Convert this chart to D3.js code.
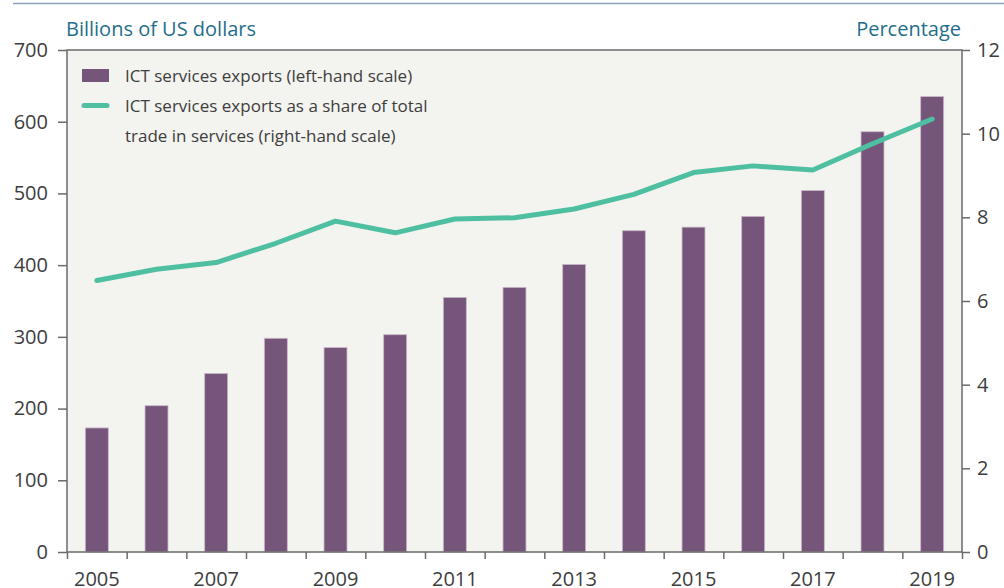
<!DOCTYPE html>
<html>
<head>
<meta charset="utf-8">
<script src="https://cdn.jsdelivr.net/npm/d3@7"></script>
<style>
  body { margin: 0; background: #fff; }
  svg text { font-family: "Open Sans", sans-serif; fill: #3d3d3d; }
  .axis path, .axis line { stroke: #6b6b6b; }
</style>
</head>
<body>
<script>
var years = [2005, 2006, 2007, 2008, 2009, 2010, 2011, 2012, 2013, 2014, 2015, 2016, 2017, 2018, 2019];
var ictExports = [173, 204, 249, 298, 285, 303, 355, 369, 401, 448, 453, 468, 504, 586, 635];
var ictShare = [6.49, 6.76, 6.92, 7.38, 7.91, 7.63, 7.96, 7.99, 8.20, 8.55, 9.07, 9.23, 9.13, 9.76, 10.35];
var leftTicks = [0, 100, 200, 300, 400, 500, 600, 700];
var rightTicks = [0, 2, 4, 6, 8, 10, 12];
var yearLabels = [2005, 2007, 2009, 2011, 2013, 2015, 2017, 2019];
var legendLabels = ["ICT services exports (left-hand scale)",
                    ["ICT services exports as a share of total", "trade in services (right-hand scale)"]];

var W = 1004, H = 588;
var plotL = 67, plotR = 962, plotT = 50, plotB = 552;
var barColor = "#76557b", lineColor = "#4fbfa2";

var svg = d3.select("body").append("svg")
        .attr("width", W)
        .attr("height", H);

// thin rule across the top
svg.append("line")
        .attr("x1", 13).attr("x2", W)
        .attr("y1", 3.5).attr("y2", 3.5)
        .attr("stroke", "#8c9fbb")
        .attr("stroke-width", 1.5);

var x = d3.scaleBand()
        .domain(years)
        .range([plotL, plotR]);
var xEdge = d3.scaleLinear()
        .domain([0, years.length])
        .range([plotL, plotR]);
var y = d3.scaleLinear()
        .domain([0, 700])
        .range([plotB, plotT]);
var y2 = d3.scaleLinear()
        .domain([0, 12])
        .range([plotB, plotT]);

svg.append("rect")
        .attr("x", plotL).attr("y", plotT)
        .attr("width", plotR - plotL).attr("height", plotB - plotT)
        .attr("fill", "#f3f3ef");

var barW = x.bandwidth() * 0.385;

svg.append("g")
        .selectAll("rect")
        .data(years)
        .enter().append("rect")
        .attr("x", function(d) { return x(d) + x.bandwidth() / 2 - barW / 2; })
        .attr("y", function(d, i) { return y(ictExports[i]); })
        .attr("width", barW)
        .attr("height", function(d, i) { return plotB - y(ictExports[i]); })
        .attr("fill", barColor)
        .attr("stroke", "#c9b9c9")
        .attr("stroke-width", 0.8);

var line = d3.line()
        .x(function(d, i) { return x(years[i]) + x.bandwidth() / 2; })
        .y(function(d) { return y2(d); });

svg.append("path")
        .datum(ictShare)
        .attr("d", line)
        .attr("fill", "none")
        .attr("stroke", lineColor)
        .attr("stroke-width", 5)
        .attr("stroke-linecap", "round")
        .attr("stroke-linejoin", "round");

// frame
svg.append("rect")
        .attr("x", plotL).attr("y", plotT)
        .attr("width", plotR - plotL).attr("height", plotB - plotT)
        .attr("fill", "none")
        .attr("stroke", "#6b6b6b")
        .attr("stroke-width", 1.5);

var yAxis = svg.append("g")
        .attr("class", "axis")
        .attr("transform", "translate(" + plotL + ",0)")
        .call(d3.axisLeft(y).tickValues(leftTicks).tickSize(9).tickPadding(10));
yAxis.select(".domain").remove();
yAxis.selectAll("text").style("font-size", "20px");
yAxis.selectAll("line").attr("stroke-width", 1.5);

var y2Axis = svg.append("g")
        .attr("class", "axis")
        .attr("transform", "translate(" + plotR + ",0)")
        .call(d3.axisRight(y2).tickValues(rightTicks).tickSize(8).tickPadding(7));
y2Axis.select(".domain").remove();
y2Axis.selectAll("text").style("font-size", "20px");
y2Axis.selectAll("line").attr("stroke-width", 1.5);

var xTicks = svg.append("g")
        .attr("class", "axis")
        .attr("transform", "translate(0," + plotB + ")")
        .call(d3.axisBottom(xEdge).tickValues(d3.range(years.length + 1)).tickFormat("").tickSize(7));
xTicks.select(".domain").remove();
xTicks.selectAll("line").attr("stroke-width", 1.5);

var xAxis = svg.append("g")
        .attr("class", "axis")
        .attr("transform", "translate(0," + plotB + ")")
        .call(d3.axisBottom(x).tickValues(yearLabels).tickSize(0).tickPadding(20));
xAxis.select(".domain").remove();
xAxis.selectAll("text").style("font-size", "20px");

// axis titles
svg.append("text")
        .attr("x", 66).attr("y", 36)
        .style("font-size", "20px")
        .style("fill", "#1f6e8a")
        .text("Billions of US dollars");
svg.append("text")
        .attr("x", 961).attr("y", 36)
        .attr("text-anchor", "end")
        .style("font-size", "20px")
        .style("fill", "#1f6e8a")
        .text("Percentage");

// legend
var legend = svg.append("g");
legend.append("rect")
        .attr("x", 82).attr("y", 69)
        .attr("width", 27).attr("height", 13)
        .attr("fill", barColor);
legend.append("text")
        .attr("x", 125).attr("y", 82)
        .style("font-size", "17px")
        .text(legendLabels[0]);
legend.append("line")
        .attr("x1", 84).attr("x2", 107)
        .attr("y1", 105.5).attr("y2", 105.5)
        .attr("stroke", lineColor)
        .attr("stroke-width", 5)
        .attr("stroke-linecap", "round");
legend.append("text")
        .attr("x", 125).attr("y", 112)
        .style("font-size", "17px")
        .text(legendLabels[1][0]);
legend.append("text")
        .attr("x", 125).attr("y", 142)
        .style("font-size", "17px")
        .text(legendLabels[1][1]);
</script>
</body>
</html>
